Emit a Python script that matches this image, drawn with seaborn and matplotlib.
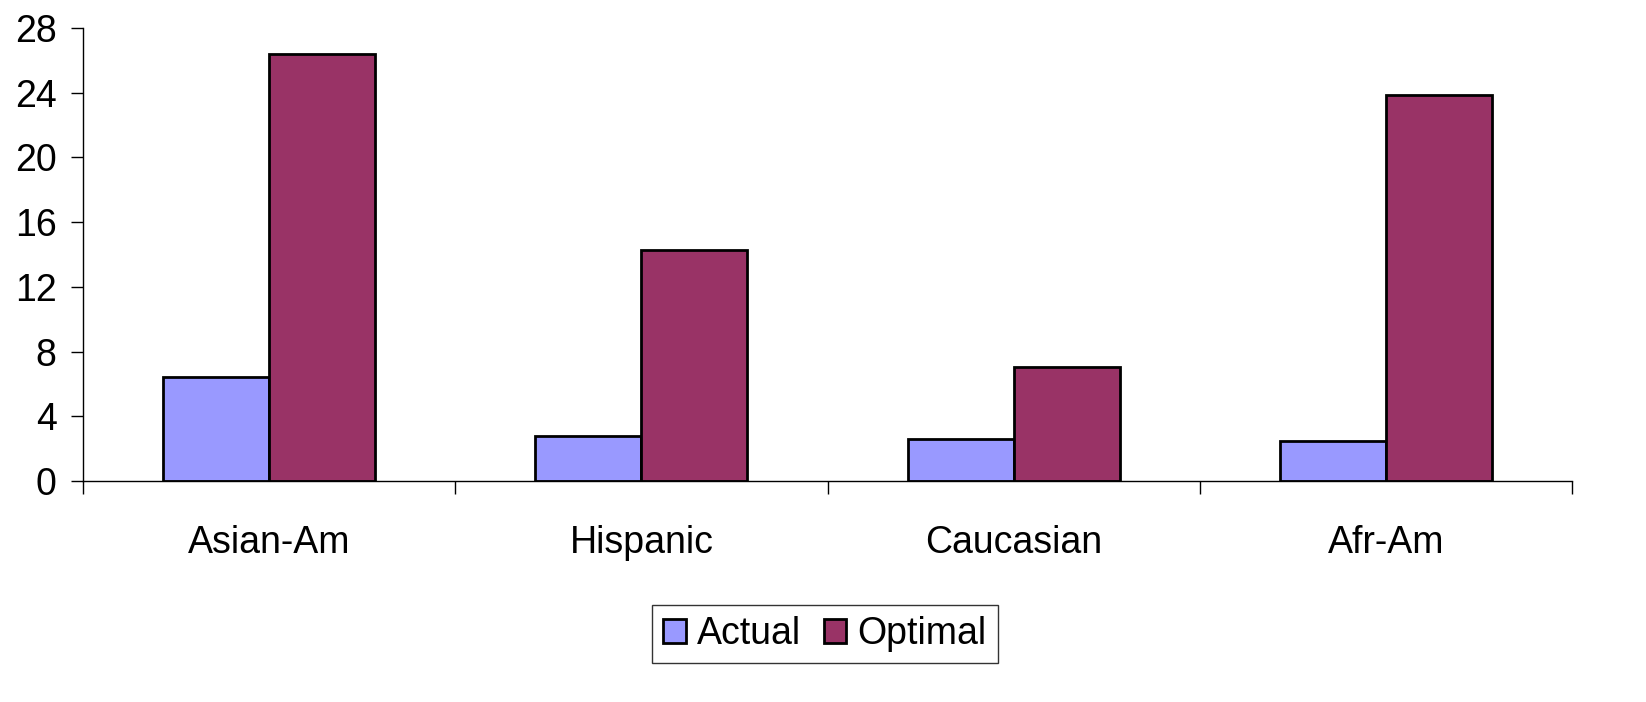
import pandas as pd
import matplotlib
matplotlib.use("Agg")
import matplotlib.pyplot as plt
import seaborn as sns

categories = ["Asian-Am", "Hispanic", "Caucasian", "Afr-Am"]
actual = [6.45, 2.8, 2.62, 2.45]
optimal = [26.4, 14.3, 7.05, 23.85]
series = ["Actual", "Optimal"]
colors = ["#9999FF", "#993366"]
y_ticks = [0, 4, 8, 12, 16, 20, 24, 28]

df = pd.DataFrame({
    "group": categories * 2,
    "series": ["Actual"] * len(categories) + ["Optimal"] * len(categories),
    "value": actual + optimal,
})

sns.set_theme(style="white")
plt.rcParams["font.family"] = ["Liberation Sans", "DejaVu Sans"]
plt.rcParams["text.color"] = "black"
plt.rcParams["xtick.color"] = "black"
plt.rcParams["ytick.color"] = "black"
plt.rcParams["xtick.labelcolor"] = "black"
plt.rcParams["ytick.labelcolor"] = "black"

FS = 27

fig = plt.figure(figsize=(16.46, 7.02), dpi=100)
ax = fig.add_axes([83 / 1646, 1 - 481 / 702, (1572 - 83) / 1646, (481 - 28) / 702])

sns.barplot(data=df, x="group", y="value", hue="series", order=categories,
            hue_order=series, palette=colors, width=0.57, saturation=1,
            edgecolor="black", linewidth=2.0, ax=ax, legend=True)

ax.set_xlim(-0.5, len(categories) - 0.5)
ax.set_ylim(0, 28)
ax.set_yticks(y_ticks)
ax.set_yticklabels([str(t) for t in y_ticks], fontsize=FS)
ax.set_xlabel("")
ax.set_ylabel("")

# category boundaries as tick marks, names centred with no tick
ax.set_xticks([i - 0.5 for i in range(len(categories) + 1)])
ax.set_xticklabels([""] * (len(categories) + 1))
ax.set_xticks(range(len(categories)), minor=True)
ax.set_xticklabels(categories, minor=True, fontsize=FS)
ax.tick_params(axis="x", which="major", length=9, width=1, direction="out", bottom=True)
ax.tick_params(axis="x", which="minor", length=0, pad=32)
ax.tick_params(axis="y", length=9, width=1, direction="out", pad=10, left=True)

for s in ["top", "right"]:
    ax.spines[s].set_visible(False)
for s in ["left", "bottom"]:
    ax.spines[s].set_color("black")
    ax.spines[s].set_linewidth(1)

ax.legend_.remove()
handles = [plt.Rectangle((0, 0), 1, 1, facecolor=c, edgecolor="black", linewidth=2.0)
           for c in colors]
leg = fig.legend(handles, series, loc="center", bbox_to_anchor=(825 / 1646, 1 - 634 / 702),
                 ncol=2, fontsize=FS, frameon=True, fancybox=False, edgecolor="black",
                 handlelength=0.6, handleheight=0.6, handletextpad=0.3, columnspacing=0.6,
                 borderpad=0.3)
leg.get_frame().set_linewidth(1)

fig.savefig("out.png", dpi=100)
